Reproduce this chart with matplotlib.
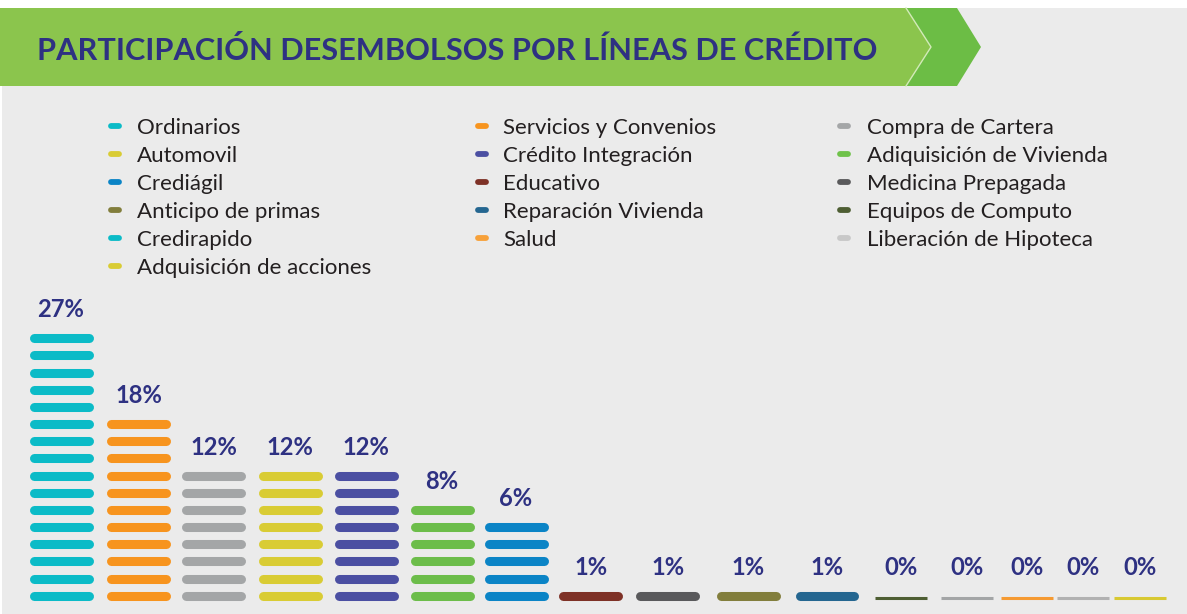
import matplotlib
matplotlib.use("Agg")
import matplotlib.pyplot as plt
from matplotlib.patches import Polygon, Rectangle

# ---------------- data ----------------
title = "PARTICIPACIÓN DESEMBOLSOS POR LÍNEAS DE CRÉDITO"

bar_categories = ["Ordinarios", "Servicios y Convenios", "Compra de Cartera", "Automovil",
                  "Crédito Integración", "Adiquisición de Vivienda", "Crediágil", "Educativo",
                  "Medicina Prepagada", "Anticipo de primas", "Reparación Vivienda",
                  "Equipos de Computo", "Credirapido", "Salud", "Liberación de Hipoteca",
                  "Adquisición de acciones"]
bar_values = [27, 18, 12, 12, 12, 8, 6, 1, 1, 1, 1, 0, 0, 0, 0, 0]
bar_segments = [16, 11, 8, 8, 8, 6, 5, 1, 1, 1, 1, 0, 0, 0, 0, 0]
bar_colors = ["#0BBBC7", "#F7941E", "#A4A6A7", "#D9CC34", "#4B4FA2", "#6CBD4A", "#0B84C6",
              "#7E3126", "#59595B", "#827E3C", "#246690", "#4E5E33", "#A3A5A6", "#F59A32",
              "#B1B1B1", "#D8C932"]

legend_col1 = ["Ordinarios", "Automovil", "Crediágil", "Anticipo de primas", "Credirapido",
               "Adquisición de acciones"]
legend_col1_colors = ["#0BBBC7", "#D9CC34", "#0B84C6", "#827E3C", "#0BBBC7", "#D9CC34"]
legend_col2 = ["Servicios y Convenios", "Crédito Integración", "Educativo",
               "Reparación Vivienda", "Salud"]
legend_col2_colors = ["#F7941E", "#4B4FA2", "#7E3126", "#246690", "#F7A13A"]
legend_col3 = ["Compra de Cartera", "Adiquisición de Vivienda", "Medicina Prepagada",
               "Equipos de Computo", "Liberación de Hipoteca"]
legend_col3_colors = ["#A4A6A7", "#6FC24A", "#59595B", "#4E5E33", "#C8C8C8"]

# ---------------- layout / style ----------------
W, H = 1187, 614
NAVY = "#2E3182"
BG = "#EBEBEB"
FONT = ["Lato", "DejaVu Sans"]
TITLE_FONT = ["Liberation Sans Narrow", "Lato", "DejaVu Sans"]

fig = plt.figure(figsize=(W / 100, H / 100), dpi=100, facecolor="white")

# decoration canvas in pixel units (y down)
cv = fig.add_axes([0, 0, 1, 1])
cv.set_xlim(0, W)
cv.set_ylim(H, 0)
cv.axis("off")
cv.add_patch(Rectangle((2, 8), W - 2, H - 8, facecolor=BG, edgecolor="none", zorder=0))
cv.add_patch(Polygon([(0, 8), (906, 8), (931, 47), (906, 86), (0, 86)], closed=True,
                     facecolor="#8BC54D", edgecolor="none", zorder=1))
cv.add_patch(Polygon([(906, 8), (957, 8), (981, 47), (957, 86), (906, 86), (931, 47)],
                     closed=True, facecolor="#6CBD45", edgecolor="none", zorder=1))
cv.plot([906, 931, 906], [8, 47, 86], color="#D2EAB8", lw=1.0, zorder=2)

t_title = cv.text(37, 60, title, ha="left", va="baseline", fontsize=22, fontweight="bold",
                  color=NAVY, family=TITLE_FONT, zorder=3)

# legend (manual, three columns)
row_y0, row_dy = 126, 28
legend_texts = []
for col, cols, mx, tx in [(legend_col1, legend_col1_colors, 108, 137),
                          (legend_col2, legend_col2_colors, 475, 503),
                          (legend_col3, legend_col3_colors, 837, 867)]:
    for i, (lab, c) in enumerate(zip(col, cols)):
        y = row_y0 + i * row_dy
        cv.plot([mx + 3, mx + 11], [y, y], color=c, lw=4.2, solid_capstyle="round", zorder=3)
        legend_texts.append(cv.text(tx, y + 8, lab, ha="left", va="baseline", fontsize=15,
                                    color="#231F20", family=FONT, zorder=3))

# bars axis: x in slot units, y in segment units
PX_SLOT = 76.6
PX_SEG = 17.16
x0_px, y0_px = 61.0, 614 - 595.7
ax = fig.add_axes([0, 0, 1, 1], facecolor="none")
ax.set_xlim(-x0_px / PX_SLOT, (W - x0_px) / PX_SLOT)
ax.set_ylim(-y0_px / PX_SEG, (H - y0_px) / PX_SEG)
ax.axis("off")

slots = [0, 1.018, 1.997, 2.990, 3.982, 4.974, 5.940, 6.919, 7.924, 8.969, 10.0,
         10.966, 11.83, 12.61, 13.34, 14.09]
half_round = 27.5 / PX_SLOT
half_flat = 26.0 / PX_SLOT
label_texts = []
for x, v, n, c in zip(slots, bar_values, bar_segments, bar_colors):
    if n > 0:
        for k in range(n):
            ax.plot([x - half_round, x + half_round], [k, k], color=c, lw=6.5,
                    solid_capstyle="round", zorder=3)
    else:
        ax.plot([x - half_flat, x + half_flat], [-0.16, -0.16], color=c, lw=2.2,
                solid_capstyle="butt", zorder=3)
    top = max(n - 1, 0)
    label_texts.append(ax.annotate(f"{v}%", (x, top), xytext=(0, 21 * 0.72),
                                   textcoords="offset points", ha="center", va="baseline",
                                   fontsize=15, fontweight="bold", color=NAVY, family=FONT,
                                   zorder=4))

# fit font sizes to the reference widths
fig.canvas.draw()
r = fig.canvas.get_renderer()


def fit(t, target):
    w = t.get_window_extent(r).width
    return t.get_fontsize() * target / w


t_title.set_fontsize(fit(t_title, 841))
ls = fit(legend_texts[5], 233)
for t in legend_texts:
    t.set_fontsize(ls)
ps = fit(label_texts[0], 47)
for t in label_texts:
    t.set_fontsize(ps)

fig.savefig("out.png", dpi=100, facecolor="white")
